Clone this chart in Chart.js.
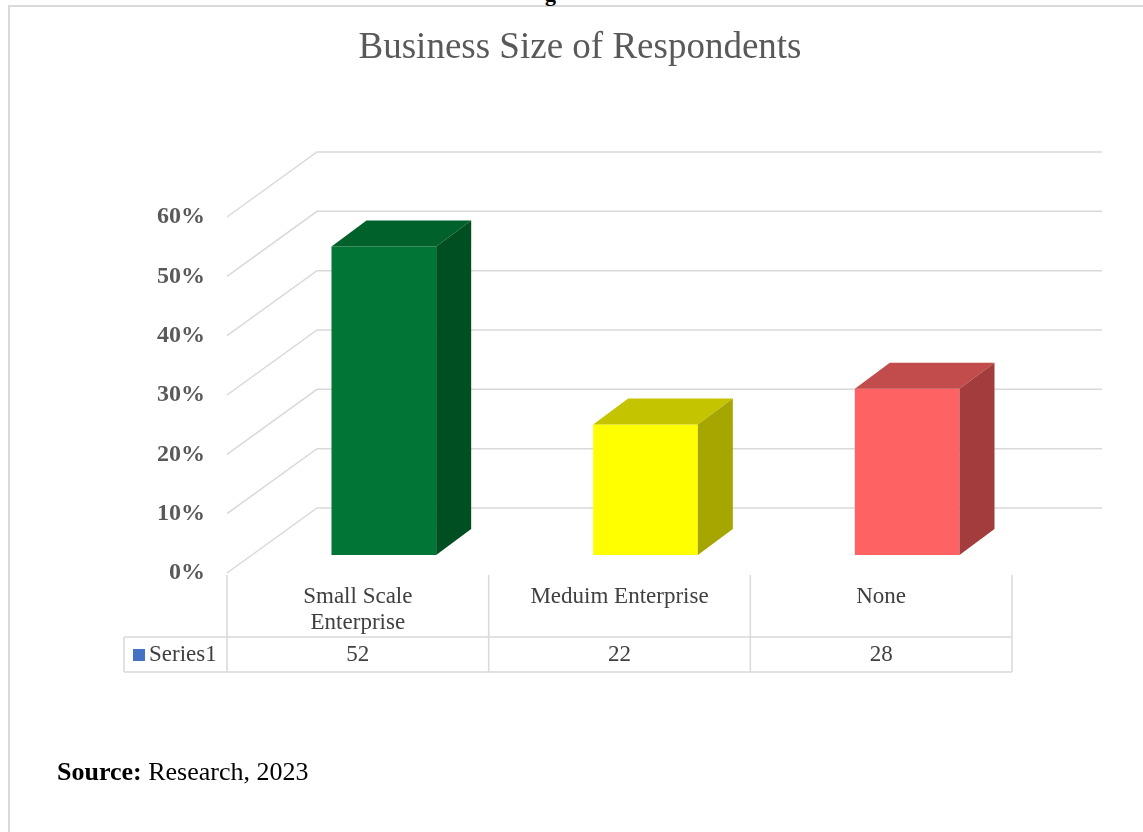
<!DOCTYPE html>
<html>
<head>
<meta charset="utf-8">
<script src="https://cdn.jsdelivr.net/npm/chart.js@4.4.0/dist/chart.umd.min.js"></script>
<style>
  body { margin: 0; background: #fff; }
  #frame { position: absolute; left: 8px; top: 5px; width: 1200px; height: 900px; border: 2px solid #d9d9d9; }
  #wrap { position: absolute; left: 0; top: 0; width: 1143px; height: 832px; }
  #cut { position: absolute; left: 545px; top: -19px; font: bold 22px "Liberation Serif"; color: #000; }
  #source { position: absolute; left: 57px; top: 757px; font: 26px "Liberation Serif"; color: #000; }
</style>
</head>
<body>
<div id="frame"></div>
<div id="cut">g</div>
<div id="wrap"><canvas id="myChart" width="1143" height="832"></canvas></div>
<div id="source"><b>Source:</b> Research, 2023</div>
<script>
// Business size of respondents (3D look drawn on top of normal bars)
const chartTitle = "Business Size of Respondents";
const categories = [["Small Scale", "Enterprise"], "Meduim Enterprise", "None"];
const seriesName = "Series1";
const values = [52, 22, 28];
const tickValues = [0, 10, 20, 30, 40, 50, 60];

const frontColors = ['#007535', '#ffff00', '#ff6262'];
const topColors   = ['#00612b', '#c4c400', '#c24b4b'];
const sideColors  = ['#004f22', '#a6a600', '#a33d3d'];

const gridColor = '#d9d9d9';
const textColor = '#404040';

// perspective offsets
const wallDx = 90, wallDy = 65;   // front edge -> back wall
const wallShift = 47;             // back wall above bar base
const barDx = 35, barDy = -26;    // bar depth
const frontShift = 26;            // front plane left of bar fronts

var plugin3d = {
    id: 'fake3d',
    beforeDatasetsDraw(chart) {
        const ctx = chart.ctx;
        const xs = chart.scales.x, ys = chart.scales.y;
        const frontLeft = xs.left - frontShift;
        const backLeft = frontLeft + wallDx;
        const backRight = xs.right - frontShift + wallDx;
        ctx.save();
        ctx.strokeStyle = gridColor;
        ctx.lineWidth = 1.5;
        tickValues.forEach(v => {
            const by = ys.getPixelForValue(v) - wallShift;
            ctx.beginPath();
            ctx.moveTo(frontLeft, by + wallDy);
            ctx.lineTo(backLeft, by);
            ctx.lineTo(backRight, by);
            ctx.stroke();
        });
        ctx.restore();
    },
    afterDatasetsDraw(chart) {
        const ctx = chart.ctx;
        const meta = chart.getDatasetMeta(0);
        ctx.save();
        meta.data.forEach((bar, i) => {
            const l = bar.x - bar.width / 2, r = bar.x + bar.width / 2;
            const t = bar.y, b = bar.base;
            // top face
            ctx.fillStyle = topColors[i];
            ctx.beginPath();
            ctx.moveTo(l, t);
            ctx.lineTo(l + barDx, t + barDy);
            ctx.lineTo(r + barDx, t + barDy);
            ctx.lineTo(r, t);
            ctx.closePath();
            ctx.fill();
            // side face
            ctx.fillStyle = sideColors[i];
            ctx.beginPath();
            ctx.moveTo(r, t);
            ctx.lineTo(r + barDx, t + barDy);
            ctx.lineTo(r + barDx, b + barDy);
            ctx.lineTo(r, b);
            ctx.closePath();
            ctx.fill();
        });
        ctx.restore();
    },
    afterDraw(chart) {
        const ctx = chart.ctx;
        const xs = chart.scales.x;
        ctx.save();
        // title
        ctx.fillStyle = '#595959';
        ctx.font = '37px "Liberation Serif"';
        ctx.textAlign = 'center';
        ctx.textBaseline = 'middle';
        ctx.fillText(chartTitle, 580, 48);

        // data table under the plot
        const colW = xs.width / categories.length;
        const x0 = xs.left - frontShift;
        const xEnd = x0 + colW * categories.length;
        const rowTop = 575, rowMid = 637, rowBot = 672, legLeft = 124;
        ctx.strokeStyle = gridColor;
        ctx.lineWidth = 1.5;
        ctx.beginPath();
        for (let i = 0; i <= categories.length; i++) {
            const x = x0 + colW * i;
            ctx.moveTo(x, rowTop);
            ctx.lineTo(x, rowBot);
        }
        ctx.moveTo(legLeft, rowMid); ctx.lineTo(xEnd, rowMid);
        ctx.moveTo(legLeft, rowBot); ctx.lineTo(xEnd, rowBot);
        ctx.moveTo(legLeft, rowMid); ctx.lineTo(legLeft, rowBot);
        ctx.stroke();

        ctx.fillStyle = textColor;
        ctx.font = '23px "Liberation Serif"';
        categories.forEach((c, i) => {
            const cx = x0 + colW * (i + 0.5);
            const lines = Array.isArray(c) ? c : [c];
            lines.forEach((ln, k) => ctx.fillText(ln, cx, 597 + k * 26));
            ctx.fillText(String(values[i]), cx, 655);
        });
        ctx.fillStyle = '#4472c4';
        ctx.fillRect(133, 649, 12, 12);
        ctx.fillStyle = textColor;
        ctx.textAlign = 'left';
        ctx.fillText(seriesName, 149, 655);
        ctx.restore();
    }
};

var ctx = document.getElementById('myChart').getContext('2d');

var mychart = new Chart(ctx, {
    type: 'bar',
    data: {
        labels: categories,
        datasets: [{
            label: seriesName,
            data: values,
            backgroundColor: frontColors,
            borderWidth: 0,
            categoryPercentage: 1,
            barPercentage: 0.4
        }]
    },
    options: {
        responsive: false,
        animation: false,
        layout: {
            padding: { left: 0, right: 105, top: 199, bottom: 277 }
        },
        plugins: {
            legend: { display: false },
            tooltip: { enabled: false },
            title: { display: false }
        },
        scales: {
            x: { display: false },
            y: {
                min: 0,
                max: 60,
                afterFit: function(scale) { scale.width = 253; },
                grid: { display: false, drawTicks: false },
                border: { display: false },
                ticks: {
                    stepSize: 10,
                    padding: 48,
                    labelOffset: 18,
                    color: '#595959',
                    font: { family: 'Liberation Serif', size: 24, weight: 'bold' },
                    callback: v => v + '%'
                }
            }
        }
    },
    plugins: [plugin3d]
});
</script>
</body>
</html>
